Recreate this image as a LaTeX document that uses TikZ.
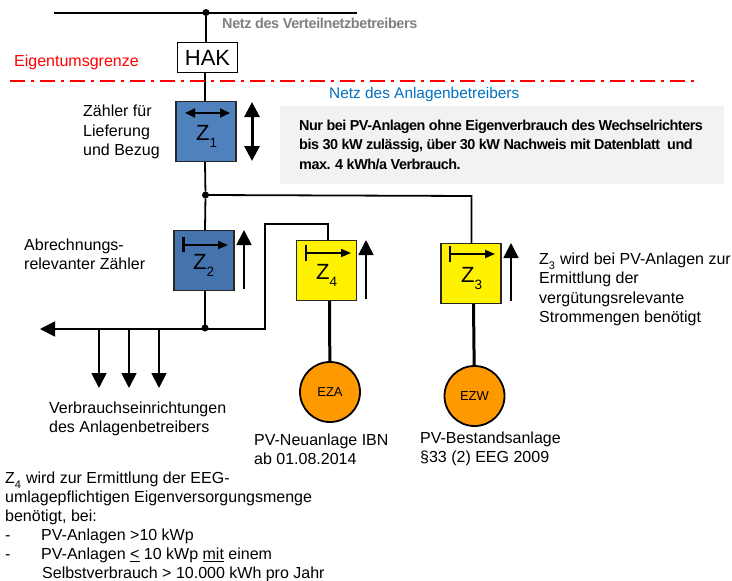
\documentclass[tikz,border=0pt]{standalone}
\usepackage{fontspec}
\setmainfont{Liberation Sans}
\usetikzlibrary{arrows.meta}
\definecolor{blueA}{HTML}{4F81BD}
\definecolor{blueB}{HTML}{4573AD}
\definecolor{boxgray}{HTML}{F2F2F2}
\definecolor{orangeG}{HTML}{FF9900}
\definecolor{netblue}{HTML}{0070C0}
\definecolor{netgray}{HTML}{808080}
\newcommand{\fs}[2]{\fontsize{#1}{#2}\selectfont}
\tikzset{
  wire/.style={line width=1.8pt,black},
  thickwire/.style={line width=3pt,black},
  meter/.style={draw=black!85,line width=1.8pt,minimum size=60pt,inner sep=0pt,outer sep=0pt},
  hakbox/.style={draw=black,fill=white,line width=1.8pt,minimum width=60pt,minimum height=30pt,inner sep=0pt,outer sep=0pt,font=\fs{22}{24}},
  gen/.style={circle,draw=black,fill=orangeG,line width=1.8pt,minimum size=60pt,inner sep=0pt,outer sep=0pt,font=\fs{13}{15}},
  junction/.style={circle,fill=black,minimum size=7pt,inner sep=0pt,outer sep=0pt},
  label/.style={anchor=west,align=left,inner sep=0pt,font=\fs{16}{19.4}},
  zlabel/.style={inner sep=0pt,font=\fs{22}{24}},
  bigarrow/.style={line width=1.8pt,-{Triangle[width=15pt,length=15pt]}},
  midarrow/.style={line width=1.8pt,-{Triangle[width=8pt,length=10pt]}},
  dropline/.style={line width=1.8pt,-{Triangle[width=15pt,length=15pt]}},
}
\begin{document}
\begin{tikzpicture}[x=1pt,y=-1pt]
\useasboundingbox (0,0) rectangle (732,581);
% grey note
\node[fill=boxgray,minimum width=444pt,minimum height=78pt,inner sep=0pt,anchor=north west] (note) at (280,106) {};
\node[anchor=west,align=left,inner sep=0pt,font=\fs{14.4}{19.5}\bfseries] (notetext) at (299,144.5) {\addfontfeature{LetterSpace=-3.4}Nur bei PV-Anlagen ohne Eigenverbrauch des Wechselrichters\\\addfontfeature{LetterSpace=-3.4}bis 30 kW zulässig, über 30 kW Nachweis mit Datenblatt\ \ und\\\addfontfeature{LetterSpace=-3.4}max. 4 kWh/a Verbrauch.};
% bus
\coordinate (busL) at (54,13);
\coordinate (busR) at (357,13);
\draw[wire,line width=2pt] (busL) -- (busR);
\node[junction] (d1) at (206,12.5) {};
\node[hakbox] (hak) at (207.5,57.5) {HAK};
\node[meter,fill=blueA] (z1) at (206,131.5) {};
\node[meter,fill=blueB] (z2) at (204,260.5) {};
\node[meter,fill=yellow] (z4) at (326.5,270.5) {};
\node[meter,fill=yellow] (z3) at (471,273.5) {};
\node[junction] (d2) at (205.5,195) {};
\node[junction] (d3) at (205,328) {};
\node[gen] (eza) at (330,392) {EZA};
\node[gen] (ezw) at (474.5,396) {EZW};
% wires
\draw[wire] (d1) -- (206,42);
\draw[wire] (205,72) -- (205,101);
\draw[wire] (205,162) -- (d2);
\draw[wire] (d2) -- (205,230);
\draw[wire] (205,291) -- (d3);
\coordinate (c3a) at (471.5,196);
\coordinate (c3b) at (471.5,243);
\draw[wire] (d2.center) -- (c3a) -- (c3b);
\coordinate (c4a) at (265,329);
\coordinate (c4b) at (265,224);
\coordinate (c4c) at (328,224);
\coordinate (c4d) at (328,240);
\draw[wire] (d3.center) ++(0,1) -- (c4a) -- (c4b) -- (c4c) -- (c4d);
\coordinate (left) at (40,329);
\draw[bigarrow] (d3.center) ++(0,1) -- (left);
\foreach \x/\n in {99/a,129/b,159/c}{
  \coordinate (t\n) at (\x,329);
  \coordinate (b\n) at (\x,388);
  \draw[dropline] (t\n) -- (b\n);
}
\draw[thickwire] (329.5,301) -- (eza);
\draw[thickwire] (473.5,304) -- (ezw);
% red boundary
\coordinate (redL) at (10,80.5);
\coordinate (redR) at (695,80.5);
\draw[red,line width=2pt,dash pattern=on 15pt off 6pt on 3pt off 6pt] (redL) -- (redR);
% meter labels
\node[zlabel,anchor=base west] (lz1) at (196,140) {Z\textsubscript{\fs{13.5}{15}\raisebox{-0.6ex}{1}}};
\node[zlabel,anchor=base west] (lz2) at (193,269) {Z\textsubscript{\fs{13.5}{15}\raisebox{-0.6ex}{2}}};
\node[zlabel,anchor=base west] (lz4) at (316,279) {Z\textsubscript{\fs{13.5}{15}\raisebox{-0.6ex}{4}}};
\node[zlabel,anchor=base west] (lz3) at (461,282) {Z\textsubscript{\fs{13.5}{15}\raisebox{-0.6ex}{3}}};
% inner arrows
\draw[line width=1.8pt,{Triangle[width=9pt,length=10pt]}-{Triangle[width=9pt,length=10pt]}] (185,113) -- (230,113);
\draw[line width=2.5pt] (183.5,237) -- (183.5,252);
\draw[midarrow] (183.5,245) -- (228,245);
\draw[line width=1.5pt] (306,244.5) -- (306,260.5);
\draw[midarrow] (306,253) -- (351,253);
\draw[line width=1.5pt] (450,246) -- (450,261.5);
\draw[midarrow] (450,254) -- (495,254);
% outer arrows
\draw[line width=3pt,{Triangle[width=15pt,length=15pt]}-{Triangle[width=15pt,length=15pt]}] (252,102) -- (252,161);
\draw[bigarrow] (244,289) -- (244,230);
\draw[bigarrow] (366,299) -- (366,240);
\draw[bigarrow] (511,301) -- (511,243);
% texts
\node[inner sep=0pt,anchor=west,font=\fs{14.4}{16}\bfseries,text=netgray] (netv) at (222,23) {\addfontfeature{LetterSpace=-2.5}Netz des Verteilnetzbetreibers};
\node[inner sep=0pt,anchor=west,font=\fs{15.4}{18},text=netblue] (neta) at (329,95) {Netz des Anlagenbetreibers};
\node[inner sep=0pt,anchor=west,font=\fs{16}{18},text=red] (eig) at (14,62) {Eigentumsgrenze};
\node[label] (tz) at (83,132) {Zähler für\\Lieferung\\und Bezug};
\node[label] (tab) at (24,254.5) {Abrechnungs-\\relevanter Zähler};
\node[label] (tz3) at (539,289.5) {Z\textsubscript{\fs{11}{13}\raisebox{-0.4ex}{3}} wird bei PV-Anlagen zur\\Ermittlung der\\vergütungsrelevante\\Strommengen benötigt};
\node[label] (tv) at (49,419) {Verbrauchseinrichtungen\\des Anlagenbetreibers};
\node[label] (tn) at (254,449) {PV-Neuanlage IBN\\ab 01.08.2014};
\node[label] (tb) at (420,449) {PV-Bestandsanlage\\§33 (2) EEG 2009};
\node[label,font=\fs{16}{19}] (tz4) at (5,527) {Z\textsubscript{\fs{11}{13}\raisebox{-0.4ex}{4}} wird zur Ermittlung der EEG-\\umlagepflichtigen Eigenversorgungsmenge\\benötigt, bei:\\-\hspace{30.7pt}PV-Anlagen >10 kWp\\-\hspace{30.7pt}PV-Anlagen \underline{<} 10 kWp \underline{mit} einem\\\hspace{37pt}Selbstverbrauch > 10.000 kWh pro Jahr};
\end{tikzpicture}
\end{document}
